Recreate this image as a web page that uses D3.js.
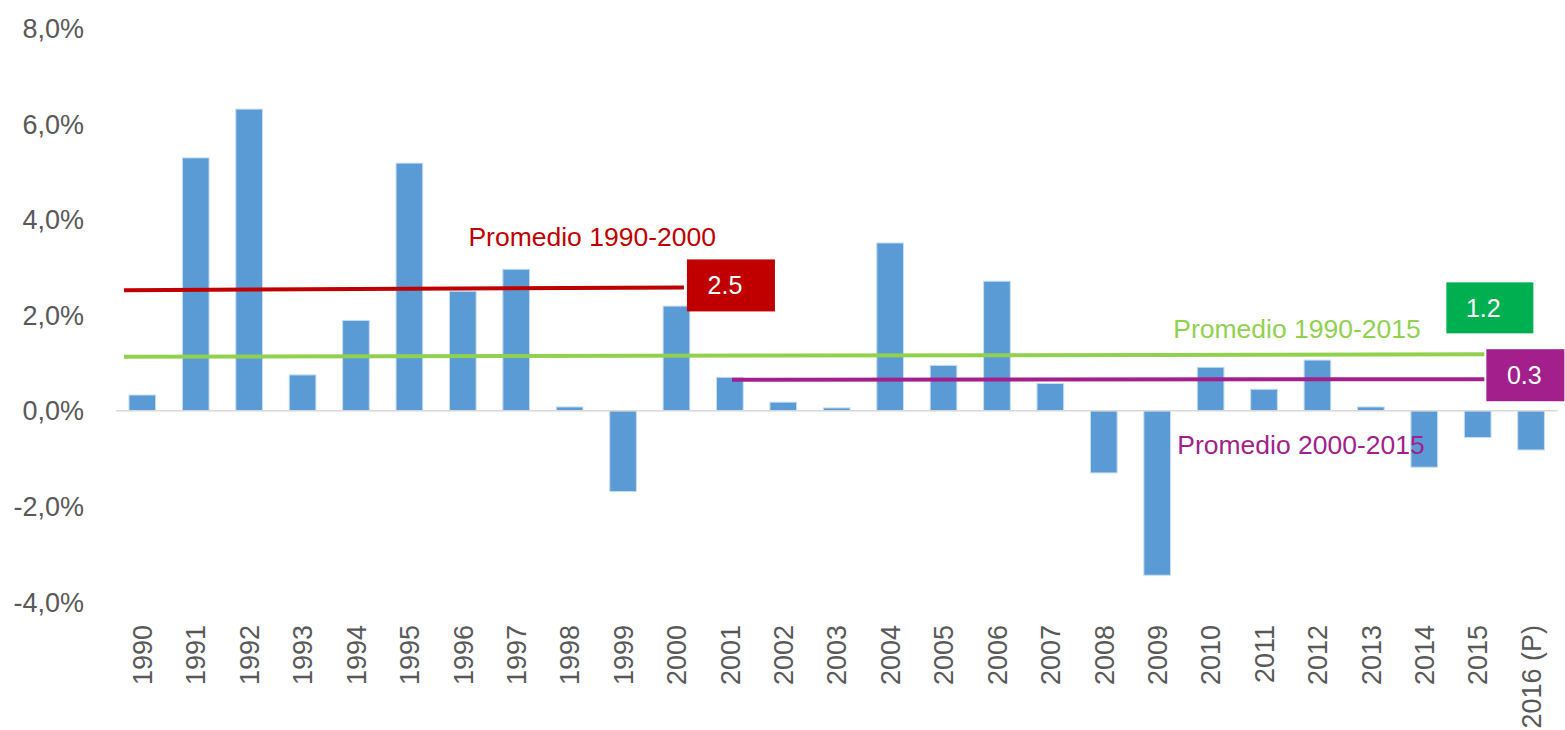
<!DOCTYPE html>
<html>
<head>
<meta charset="utf-8">
<script src="https://cdn.jsdelivr.net/npm/d3@7"></script>
<style>
  body { margin: 0; background: #fff; }
  svg { display: block; font-family: "Liberation Sans", Arial, sans-serif; }
</style>
</head>
<body>
<div id="app"></div>
<script>
const years = ["1990", "1991", "1992", "1993", "1994", "1995", "1996", "1997", "1998", "1999",
  "2000", "2001", "2002", "2003", "2004", "2005", "2006", "2007", "2008", "2009",
  "2010", "2011", "2012", "2013", "2014", "2015", "2016 (P)"];
const growth = [0.33, 5.29, 6.31, 0.75, 1.89, 5.18, 2.50, 2.96, 0.08, -1.69,
  2.19, 0.70, 0.18, 0.06, 3.51, 0.95, 2.71, 0.57, -1.30, -3.44,
  0.91, 0.45, 1.06, 0.08, -1.18, -0.56, -0.82];
const yTicks = [-4, -2, 0, 2, 4, 6, 8];

const avgNames = ["Promedio 1990-2000", "Promedio 1990-2015", "Promedio 2000-2015"];
const avgStart = [2.52, 1.13, 0.65];
const avgEnd = [2.58, 1.18, 0.66];
const avgFrom = ["1990", "1990", "2001"];
const avgTo = ["2000", "2015", "2015"];
const avgBadge = ["2.5", "1.2", "0.3"];

const chart = () => {
  const width = 1565;
  const height = 730;

  const lineColors = ["#c00000", "#92d050", "#a21f8c"];
  const boxColors = ["#c00000", "#00b050", "#a21f8c"];
  const textColors = ["#c00000", "#92d050", "#a21f8c"];

  const x = d3.scaleBand()
    .domain(years)
    .range([115.6, 1557.8])
    .paddingInner(0.5)
    .paddingOuter(0.25);

  const y = d3.scaleLinear()
    .domain([-4, 8])
    .range([602, 28.3]);

  const bw = x.bandwidth();

  const svg = d3.create("svg").attr("width", width).attr("height", height);

  // y tick labels
  svg.append("g")
    .selectAll("text")
    .data(yTicks)
    .join("text")
    .attr("x", 84)
    .attr("y", d => y(d))
    .attr("dy", "0.36em")
    .attr("text-anchor", "end")
    .attr("fill", "#595959")
    .style("font-size", "27px")
    .text(d => d3.format(".1f")(d).replace(".", ",").replace("−", "-") + "%");

  // bars
  svg.append("g")
    .selectAll("rect")
    .data(years)
    .join("rect")
    .attr("x", d => x(d))
    .attr("y", (d, i) => y(Math.max(0, growth[i])))
    .attr("width", bw)
    .attr("height", (d, i) => Math.abs(y(growth[i]) - y(0)))
    .attr("fill", "#5b9bd5")
    .attr("stroke", "#c9def2")
    .attr("stroke-width", 1);

  // zero axis line
  svg.append("line")
    .attr("x1", x.range()[0])
    .attr("x2", x.range()[1])
    .attr("y1", y(0))
    .attr("y2", y(0))
    .attr("stroke", "#d9d9d9")
    .attr("stroke-width", 1.5);

  // x labels (rotated)
  svg.append("g")
    .selectAll("text")
    .data(years)
    .join("text")
    .attr("transform", d => `translate(${x(d) + bw / 2},625) rotate(-90)`)
    .attr("dy", "0.36em")
    .attr("text-anchor", "end")
    .attr("fill", "#595959")
    .style("font-size", "27px")
    .text(d => d);

  // average lines, badges and labels
  const startDx = [-5, -5, 0.58 * bw];
  const endDx = [0.78 * bw, 0.75 * bw, 0.75 * bw];
  const boxes = [
    { dx: 3, dy: -28, w: 88, h: 52, tx: 38 },
    { dx: -38, dy: -72, w: 87, h: 51, tx: 37 },
    { dx: 2, dy: -30, w: 78, h: 52, tx: 38 }
  ];
  const labels = [
    { cat: "1996", dx: 19, dy: -41 },
    { cat: "2010", dx: -24, dy: -16 },
    { cat: "2010", dx: -20, dy: 75 }
  ];

  avgNames.forEach((name, i) => {
    const x1 = x(avgFrom[i]) + startDx[i];
    const x2 = x(avgTo[i]) + endDx[i];
    const g = svg.append("g");

    g.append("line")
      .attr("x1", x1)
      .attr("x2", x2)
      .attr("y1", y(avgStart[i]))
      .attr("y2", y(avgEnd[i]))
      .attr("stroke", lineColors[i])
      .attr("stroke-width", 4);

    const b = boxes[i];
    const bx = x2 + b.dx;
    const by = y(avgEnd[i]) + b.dy;
    g.append("rect")
      .attr("x", bx)
      .attr("y", by)
      .attr("width", b.w)
      .attr("height", b.h)
      .attr("fill", boxColors[i]);

    g.append("text")
      .attr("x", bx + b.tx)
      .attr("y", by + b.h / 2)
      .attr("dy", "0.36em")
      .attr("text-anchor", "middle")
      .attr("fill", "#fff")
      .style("font-size", "25px")
      .text(avgBadge[i]);

    const l = labels[i];
    g.append("text")
      .attr("x", x(l.cat) + l.dx)
      .attr("y", y(avgEnd[i]) + l.dy)
      .attr("fill", textColors[i])
      .style("font-size", "26.5px")
      .text(name);
  });

  return svg.node();
};

d3.select("#app").append(chart);
</script>
</body>
</html>
